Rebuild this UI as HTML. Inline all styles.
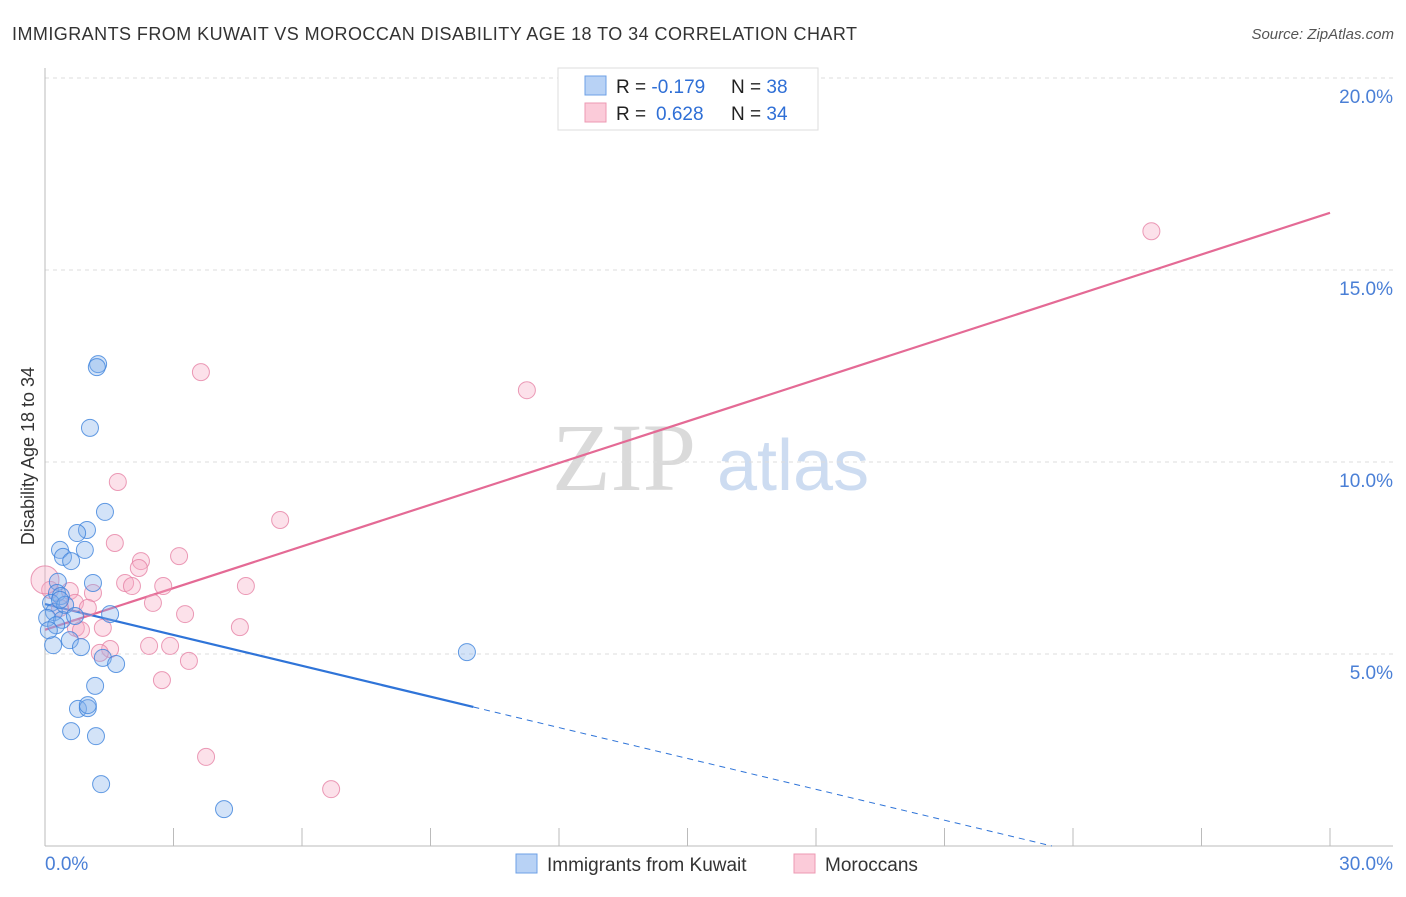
<!DOCTYPE html>
<html><head><meta charset="utf-8"><style>
body{margin:0;background:#fff;font-family:"Liberation Sans",sans-serif;}
</style></head><body>
<svg id="chart" width="1406" height="892" xmlns="http://www.w3.org/2000/svg" font-family="Liberation Sans, sans-serif">
<text x="12" y="40" font-size="18" fill="#333" textLength="845">IMMIGRANTS FROM KUWAIT VS MOROCCAN DISABILITY AGE 18 TO 34 CORRELATION CHART</text>
<text x="1394" y="39" font-size="15" fill="#555" font-style="italic" text-anchor="end">Source: ZipAtlas.com</text>
<g>
<text x="552" y="490" font-size="96" fill="#dadada" font-family="Liberation Serif, serif">ZIP</text>
<text x="717" y="490" font-size="72" fill="#cddcf1">atlas</text>
</g>
<g id="grid"></g><g id="axes"></g><g id="trends"></g><g id="points"></g>
<g>
<rect x="558" y="68" width="260" height="62" fill="#fff" stroke="#ddd"/>
<rect x="585" y="76" width="21" height="19" fill="#b8d2f5" stroke="#6ea0e6"/>
<rect x="585" y="103" width="21" height="19" fill="#fbcbd9" stroke="#ec9ab3"/>
<text x="616" y="93" font-size="19" fill="#222">R = <tspan fill="#2f6fd6">-0.179</tspan><tspan x="731">N = </tspan><tspan fill="#2f6fd6">38</tspan></text>
<text x="616" y="120" font-size="19" fill="#222">R = <tspan fill="#2f6fd6" x="656">0.628</tspan><tspan x="731">N = </tspan><tspan fill="#2f6fd6">34</tspan></text>
</g>
<g>
<rect x="516" y="854" width="21" height="19" fill="#b8d2f5" stroke="#6ea0e6"/>
<text x="547" y="871" font-size="19" fill="#333">Immigrants from Kuwait</text>
<rect x="794" y="854" width="21" height="19" fill="#fbcbd9" stroke="#ec9ab3"/>
<text x="825" y="871" font-size="19" fill="#333">Moroccans</text>
</g>
<text transform="translate(34,456) rotate(-90)" font-size="18" fill="#333" text-anchor="middle">Disability Age 18 to 34</text>
</svg>
<script>
const blueX=[1.24,1.21,1.05,1.40,0.98,0.75,0.93,0.35,0.42,0.61,1.12,0.30,0.28,0.37,0.14,0.21,0.05,0.40,1.52,0.19,0.58,0.84,1.35,1.66,1.17,0.77,1.00,1.00,0.61,1.19,1.31,4.18,9.85,0.47,0.26,0.09,0.70,0.35];
const blueY=[12.55,12.47,10.89,8.70,8.23,8.15,7.71,7.71,7.53,7.42,6.85,6.88,6.59,6.51,6.33,6.09,5.94,5.89,6.04,5.23,5.36,5.18,4.90,4.74,4.17,3.57,3.59,3.67,2.99,2.86,1.61,0.96,5.05,6.28,5.75,5.62,5.99,6.41];
const pinkX=[25.83,3.64,11.25,1.70,5.49,1.63,3.13,2.24,2.19,1.87,2.03,2.76,4.69,2.52,1.12,0.58,3.27,0.70,1.00,0.35,0.72,1.35,4.55,2.43,2.92,1.52,1.28,3.36,2.73,3.76,6.68,0.12,0.0,0.84];
const pinkY=[16.01,12.34,11.87,9.48,8.49,7.89,7.55,7.42,7.24,6.85,6.77,6.77,6.77,6.33,6.59,6.64,6.04,6.33,6.20,6.20,5.68,5.68,5.70,5.21,5.21,5.13,5.03,4.82,4.32,2.32,1.48,6.67,6.93,5.62];
const yTicks=[5,10,15,20];
const blueTrend=[6.3,-0.268];   // intercept, slope
const pinkTrend=[5.63,0.362];
const NS="http://www.w3.org/2000/svg";
const X=v=>45+v/30*1285, Y=v=>846-v/20*768;
function mk(t,a,p){const e=document.createElementNS(NS,t);for(const k in a)e.setAttribute(k,a[k]);document.getElementById(p).appendChild(e);return e;}
yTicks.forEach(t=>{
 const l=mk('line',{x1:45,x2:1393,y1:Y(t),y2:Y(t),stroke:'#ddd','stroke-dasharray':'4,4'},'grid');
 
 
 const tx=mk('text',{x:1393,y:Y(t)+25,'font-size':19,fill:'#4a7fd6','text-anchor':'end'},'grid');
 tx.textContent=t.toFixed(1)+'%';
 
 
});
mk('line',{x1:45,x2:45,y1:68,y2:846,stroke:'#bbb'},'axes');
mk('line',{x1:45,x2:1393,y1:846,y2:846,stroke:'#bbb'},'axes');
for(let i=1;i<=10;i++){const tk=mk('line',{x1:X(i*3),x2:X(i*3),y1:828,y2:846,stroke:'#bbb'},'axes');
 
 }
[['0.0%',45,'start'],['30.0%',1393,'end']].forEach(d=>{const t=mk('text',{x:d[1],y:870,'font-size':19,fill:'#4a7fd6','text-anchor':d[2]},'axes');t.textContent=d[0];
 
 });
const pl=mk('line',{x1:X(0),y1:Y(pinkTrend[0]),x2:X(30),y2:Y(pinkTrend[0]+30*pinkTrend[1]),stroke:'#e46a95','stroke-width':2.2},'trends');


const bx0=blueTrend[0]/-blueTrend[1];
const bl=mk('line',{x1:X(0),y1:Y(blueTrend[0]),x2:X(10),y2:Y(blueTrend[0]+10*blueTrend[1]),stroke:'#2f74d8','stroke-width':2.2},'trends');


const bd=mk('line',{x1:X(10),y1:Y(blueTrend[0]+10*blueTrend[1]),x2:X(bx0),y2:Y(0),stroke:'#2f74d8','stroke-width':1,'stroke-dasharray':'6,5'},'trends');


pinkX.forEach((x,i)=>{const c=mk('circle',{cx:X(x),cy:Y(pinkY[i]),r:x===0?14:8.5,fill:'rgba(246,168,196,0.35)',stroke:'rgba(230,130,165,0.8)','stroke-width':1},'points');
 
 });
blueX.forEach((x,i)=>{const c=mk('circle',{cx:X(x),cy:Y(blueY[i]),r:8.5,fill:'rgba(130,175,236,0.35)',stroke:'rgba(60,130,220,0.8)','stroke-width':1},'points');
 
 });
</script>
</body></html>
